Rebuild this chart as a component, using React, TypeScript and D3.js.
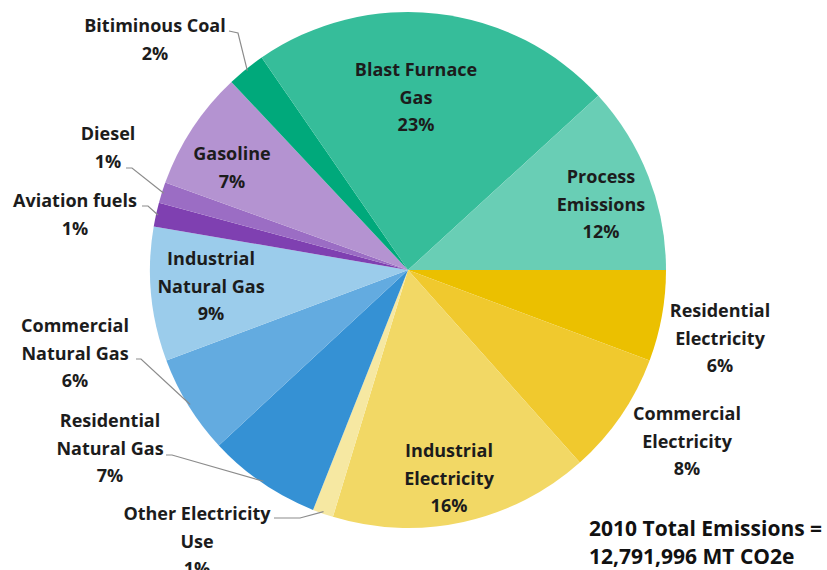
import React from "react";
import * as d3 from "d3";

const categories = [
  "Residential Electricity",
  "Commercial Electricity",
  "Industrial Electricity",
  "Other Electricity Use",
  "Residential Natural Gas",
  "Commercial Natural Gas",
  "Industrial Natural Gas",
  "Aviation fuels",
  "Diesel",
  "Gasoline",
  "Bitiminous Coal",
  "Blast Furnace Gas",
  "Process Emissions",
];
const values = [5.7, 7.7, 16.3, 1.3, 7.1, 6.2, 8.4, 1.5, 1.3, 7.5, 2.4, 22.8, 11.8];
const pctLabels = ["6%", "8%", "16%", "1%", "7%", "6%", "9%", "1%", "1%", "7%", "2%", "23%", "12%"];
const colors = [
  "#EBC000", "#F0C92E", "#F2D865", "#F6E8A2",
  "#3591D4", "#63ABE0", "#9BCCEB",
  "#7F40B1", "#9B6DC4", "#B493D1",
  "#00A97B", "#36BD9A", "#69CEB5",
];
// label text lines (excluding percentage) and layout
const labelLines = [
  ["Residential", "Electricity"],
  ["Commercial", "Electricity"],
  ["Industrial", "Electricity"],
  ["Other Electricity", "Use"],
  ["Residential", "Natural Gas"],
  ["Commercial", "Natural Gas"],
  ["Industrial", "Natural Gas"],
  ["Aviation fuels"],
  ["Diesel"],
  ["Gasoline"],
  ["Bitiminous Coal"],
  ["Blast Furnace", "Gas"],
  ["Process", "Emissions"],
];
const labelPos: [number, number][] = [
  [720, 310], [687, 413], [449, 450], [197, 513],
  [110, 420], [75, 325], [211, 258], [75, 200],
  [108, 133], [232, 153], [155, 25], [416, 69], [601, 176],
];
// leader lines: [startX, startY, elbowX, elbowY] or null
const leaders: ([number, number, number, number] | null)[] = [
  null, null, null, [274, 518, 300, 518],
  [166, 455, 172, 455], [136, 359, 141, 359], null, [142, 206, 148, 206],
  [126, 168, 132, 168], null, [229, 31, 238, 33], null, null,
];

const W = 827, H = 570;
const cx = 408, cy = 270, R = 258;

export default function App() {
  const pie = d3.pie<number>().sort(null).value((d) => d)
    .startAngle(Math.PI / 2).endAngle(Math.PI / 2 + 2 * Math.PI);
  const arcs = pie(values);
  const arc = d3.arc<d3.PieArcDatum<number>>().innerRadius(0).outerRadius(R);
  const lineH = 27.5;
  return (
    <svg width={W} height={H} style={{ position: "absolute", left: 0, top: 0, background: "#fff" }}
      fontFamily="'Open Sans', Lato, sans-serif" fontWeight="bold">
      <g transform={`translate(${cx},${cy})`}>
        {arcs.map((a, i) => (
          <path key={i} d={arc(a) || ""} fill={colors[i]} />
        ))}
      </g>
      {arcs.map((a, i) => {
        const l = leaders[i];
        if (!l) return null;
        const mid = (a.startAngle + a.endAngle) / 2;
        const ex = cx + Math.sin(mid) * (R - 2);
        const ey = cy - Math.cos(mid) * (R - 2);
        return (
          <polyline key={"l" + i} points={`${l[0]},${l[1]} ${l[2]},${l[3]} ${ex},${ey}`}
            fill="none" stroke="#8c8c8c" strokeWidth={1.2} />
        );
      })}
      {categories.map((c, i) => {
        const lines = [...labelLines[i], pctLabels[i]];
        const [x, y] = labelPos[i];
        return (
          <text key={c} x={x} y={y} textAnchor="middle" fontSize={18} fill="#1c1c1c" dominantBaseline="central">
            {lines.map((t, k) => (
              <tspan key={k} x={x} y={y + k * lineH}>{t}</tspan>
            ))}
          </text>
        );
      })}
      <text x={589} y={528} fontSize={21} fill="#111" dominantBaseline="central">2010 Total Emissions =</text>
      <text x={589} y={556} fontSize={21} fill="#111" dominantBaseline="central">12,791,996 MT CO2e</text>
    </svg>
  );
}
